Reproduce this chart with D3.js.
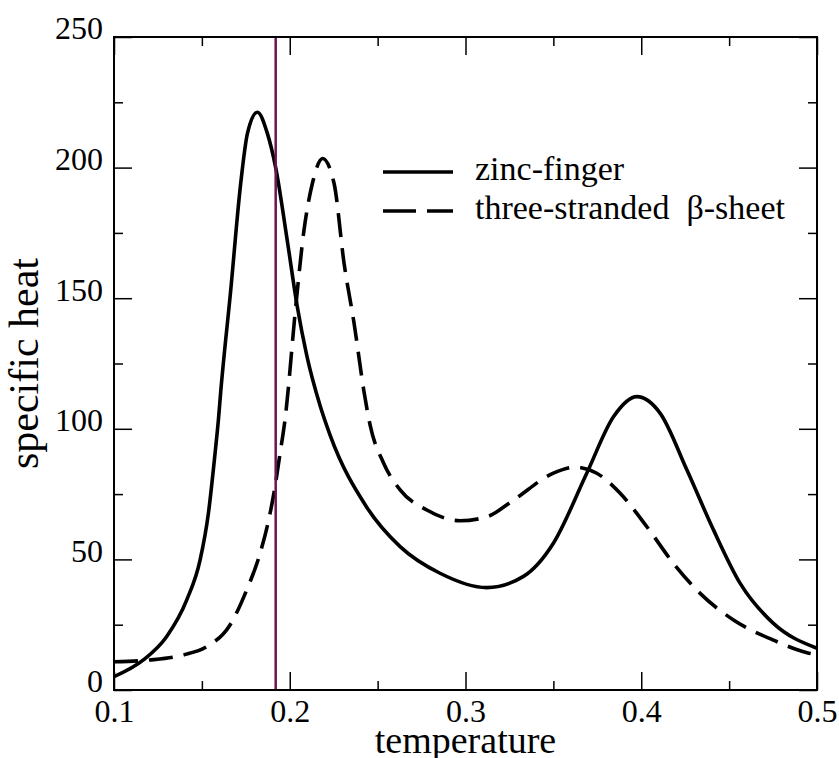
<!DOCTYPE html>
<html>
<head>
<meta charset="utf-8">
<script src="https://cdn.jsdelivr.net/npm/d3@7"></script>
<style>
  body { margin: 0; background: #fff; }
  svg text { font-family: "Liberation Serif", "Times New Roman", serif; fill: #000; }
</style>
</head>
<body>
<svg id="chart" width="839" height="758"></svg>
<script>
// zinc-finger (solid)
const zincT = [0.100, 0.1167, 0.130, 0.1414, 0.149, 0.1537, 0.1575, 0.1594, 0.1607, 0.1664, 0.1721, 0.1759, 0.1816,
  0.1873, 0.192, 0.1986, 0.2043, 0.2097, 0.2172, 0.223, 0.2438, 0.2628, 0.2855, 0.3121, 0.333,
  0.35, 0.369, 0.3842, 0.3975, 0.4108, 0.426, 0.4411, 0.4563, 0.4752, 0.500];
const zincC = [5.1, 11.5, 20.5, 34.5, 49.8, 67.6, 90.6, 103.4, 114, 153, 194, 213, 221.2,
  213, 200, 172, 146.7, 128, 109, 97.5, 70, 54.9, 44.7, 39.2, 43.5,
  56.2, 83, 104.6, 112.3, 105.9, 84.2, 61.3, 40.8, 25.5, 16];

// three-stranded beta-sheet (dashed)
const betaT = [0.100, 0.1205, 0.1394, 0.1528, 0.166, 0.1755, 0.1831, 0.1888, 0.1916, 0.1945, 0.1973, 0.2034,
  0.2081, 0.2129, 0.2187, 0.2252, 0.2309, 0.2366, 0.2423, 0.2457, 0.2533, 0.2628, 0.278, 0.2969, 0.3121,
  0.3273, 0.35, 0.3624, 0.3747, 0.388, 0.4032, 0.4183, 0.4335, 0.4525, 0.4752, 0.4943, 0.500];
const betaC = [10.8, 11.5, 13.4, 16.6, 24.9, 38.3, 52.3, 67.6, 77.8, 90.6, 103.4, 146.7,
  176, 194, 203.5, 194, 163.4, 140.4, 114, 101.5, 87, 76.6, 68.9, 64.8, 66.3,
  72.7, 83, 85.3, 83, 75.3, 62.5, 48.5, 37, 26.8, 19.1, 14.3, 13.5];

const markerT = 0.192;

const xMajor = [0.1, 0.2, 0.3, 0.4, 0.5];
const xMinor = [0.15, 0.25, 0.35, 0.45];
const yMajor = [0, 50, 100, 150, 200, 250];
const yMinor = [25, 75, 125, 175, 225];

const seriesNames = ["zinc-finger", "three-stranded  \u03b2-sheet"];

const svg = d3.select("#chart"),
      margin = { top: 37, right: 22, bottom: 68, left: 114 },
      width = +svg.attr("width"),
      height = +svg.attr("height"),
      innerW = width - margin.left - margin.right,
      innerH = height - margin.top - margin.bottom;

const x = d3.scaleLinear().domain([0.1, 0.5]).range([margin.left, width - margin.right]);
const y = d3.scaleLinear().domain([0, 250]).range([height - margin.bottom, margin.top]);

svg.append("defs").append("clipPath").attr("id", "clip")
  .append("rect")
  .attr("x", margin.left).attr("y", margin.top)
  .attr("width", innerW).attr("height", innerH);

const line = d3.line()
  .x(d => x(d[0]))
  .y(d => y(d[1]))
  .curve(d3.curveMonotoneX);

const plot = svg.append("g").attr("clip-path", "url(#clip)");

//curves
plot.append("path")
  .datum(d3.zip(betaT, betaC))
  .attr("fill", "none")
  .attr("stroke", "#000")
  .attr("stroke-width", 3.6)
  .attr("stroke-dasharray", "24,11")
  .attr("d", line);

plot.append("path")
  .datum(d3.zip(zincT, zincC))
  .attr("fill", "none")
  .attr("stroke", "#000")
  .attr("stroke-width", 3.6)
  .attr("d", line);

//vertical marker
svg.append("line")
  .attr("x1", x(markerT)).attr("x2", x(markerT))
  .attr("y1", y(0)).attr("y2", y(250))
  .attr("stroke", "#6b1452")
  .attr("stroke-width", 2.5);

//axes, ticks inward on all four sides
function styleAxis(g) {
  g.select(".domain").remove();
  g.selectAll(".tick line").attr("stroke", "#000").attr("stroke-width", 1.5);
  g.selectAll("text").style("font-size", "32px").style("font-family", "'Liberation Serif', serif");
}

svg.append("g")
  .attr("transform", `translate(0,${y(0)})`)
  .call(d3.axisBottom(x).tickValues(xMajor).tickSize(-18).tickSizeOuter(0).tickPadding(9).tickFormat(d3.format(".1f")))
  .call(styleAxis);
svg.append("g")
  .attr("transform", `translate(0,${y(0)})`)
  .call(d3.axisBottom(x).tickValues(xMinor).tickSize(-9).tickSizeOuter(0).tickFormat(""))
  .call(styleAxis);
svg.append("g")
  .attr("transform", `translate(0,${y(250)})`)
  .call(d3.axisTop(x).tickValues(xMajor).tickSize(-18).tickSizeOuter(0).tickFormat(""))
  .call(styleAxis);
svg.append("g")
  .attr("transform", `translate(0,${y(250)})`)
  .call(d3.axisTop(x).tickValues(xMinor).tickSize(-9).tickSizeOuter(0).tickFormat(""))
  .call(styleAxis);

const yAx = svg.append("g")
  .attr("transform", `translate(${x(0.1)},0)`)
  .call(d3.axisLeft(y).tickValues(yMajor).tickSize(-18).tickSizeOuter(0).tickPadding(11))
  .call(styleAxis);
yAx.selectAll("text").attr("dy", "0.06em");
svg.append("g")
  .attr("transform", `translate(${x(0.1)},0)`)
  .call(d3.axisLeft(y).tickValues(yMinor).tickSize(-9).tickSizeOuter(0).tickFormat(""))
  .call(styleAxis);
svg.append("g")
  .attr("transform", `translate(${x(0.5)},0)`)
  .call(d3.axisRight(y).tickValues(yMajor).tickSize(-18).tickSizeOuter(0).tickFormat(""))
  .call(styleAxis);
svg.append("g")
  .attr("transform", `translate(${x(0.5)},0)`)
  .call(d3.axisRight(y).tickValues(yMinor).tickSize(-9).tickSizeOuter(0).tickFormat(""))
  .call(styleAxis);

//frame
svg.append("rect")
  .attr("x", margin.left).attr("y", margin.top)
  .attr("width", innerW).attr("height", innerH)
  .attr("fill", "none")
  .attr("stroke", "#000")
  .attr("stroke-width", 2);

//axis titles
svg.append("text")
  .attr("x", (x(0.1) + x(0.5)) / 2)
  .attr("y", 753)
  .attr("text-anchor", "middle")
  .style("font-size", "38px")
  .text("temperature");

svg.append("text")
  .attr("transform", `translate(38,${(y(0) + y(250)) / 2}) rotate(-90)`)
  .attr("text-anchor", "middle")
  .style("font-size", "42px")
  .text("specific heat");

//legend
const legend = svg.append("g");
const legY = [172, 211];
legend.selectAll("line")
  .data(seriesNames)
  .join("line")
  .attr("x1", 383).attr("x2", 453)
  .attr("y1", (d, i) => legY[i]).attr("y2", (d, i) => legY[i])
  .attr("stroke", "#000")
  .attr("stroke-width", 3.6)
  .attr("stroke-dasharray", (d, i) => i === 1 ? "33,11" : null);
legend.selectAll("text")
  .data(seriesNames)
  .join("text")
  .attr("x", 475)
  .attr("y", (d, i) => legY[i] + 8)
  .style("font-size", "34px")
  .style("white-space", "pre")
  .attr("xml:space", "preserve")
  .text(d => d);
</script>
</body>
</html>
